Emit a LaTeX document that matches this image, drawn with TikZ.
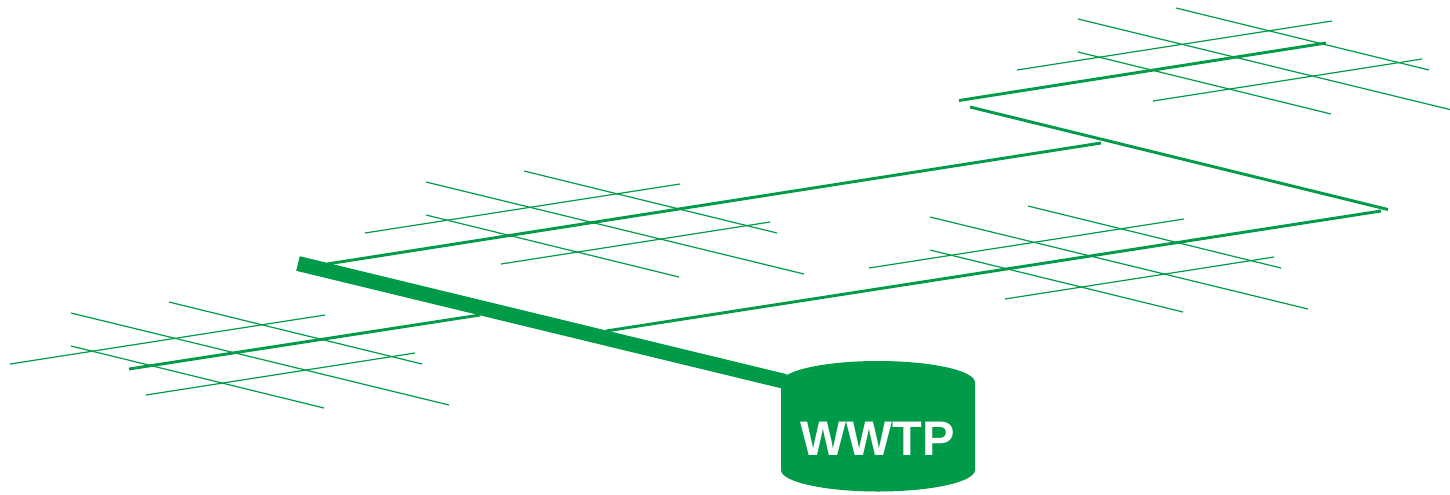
\documentclass[tikz,border=0pt]{standalone}
\usepackage{fontspec}
\setmainfont{Liberation Sans}
\definecolor{sewergreen}{RGB}{0,155,72}
\tikzset{
  lateral/.style={draw=sewergreen,line width=0.6pt},
  collector/.style={draw=sewergreen,line width=1.45pt},
  trunk/.style={draw=sewergreen,line width=7.5pt},
}
\begin{document}
\begin{tikzpicture}[x=0.5pt,y=-0.5pt]
\useasboundingbox (0,0) rectangle (1450,494);
% laterals
\foreach \dx/\dy in {0/0,355/-131,859/-96,1007/-294}{
\begin{scope}[shift={(\dx,\dy)}]
\draw[lateral] (71,313) -- (449,405);
\draw[lateral] (169,302) -- (422,364);
\draw[lateral] (71,346) -- (324,408);
\draw[lateral] (10,364) -- (325,315);
\draw[lateral] (146,395) -- (415,353);
\end{scope}
}
% collectors
\draw[collector] (129,369) -- (480,315);
\draw[collector] (327,264) -- (1101,143);
\draw[collector] (606,331) -- (1381,211);
\draw[collector] (959,100.5) -- (1326,43);
\draw[collector] (970,107) -- (1388,209.5);
% plant
\fill[sewergreen] (781,382.5) arc[start angle=180,end angle=360,x radius=97,y radius=21.5]
  -- (975,470) arc[start angle=0,end angle=180,x radius=97,y radius=21.5] -- cycle;
\node[text=white,font=\fontsize{24.3pt}{24pt}\selectfont\bfseries,inner sep=0pt] (wwtp) at (877.5,438.5) {WWTP};
\coordinate (trunkend) at (298,263.5);
\coordinate (trunkin) at (785,381.5);
\draw[trunk] (trunkend) -- (trunkin);
\end{tikzpicture}
\end{document}
